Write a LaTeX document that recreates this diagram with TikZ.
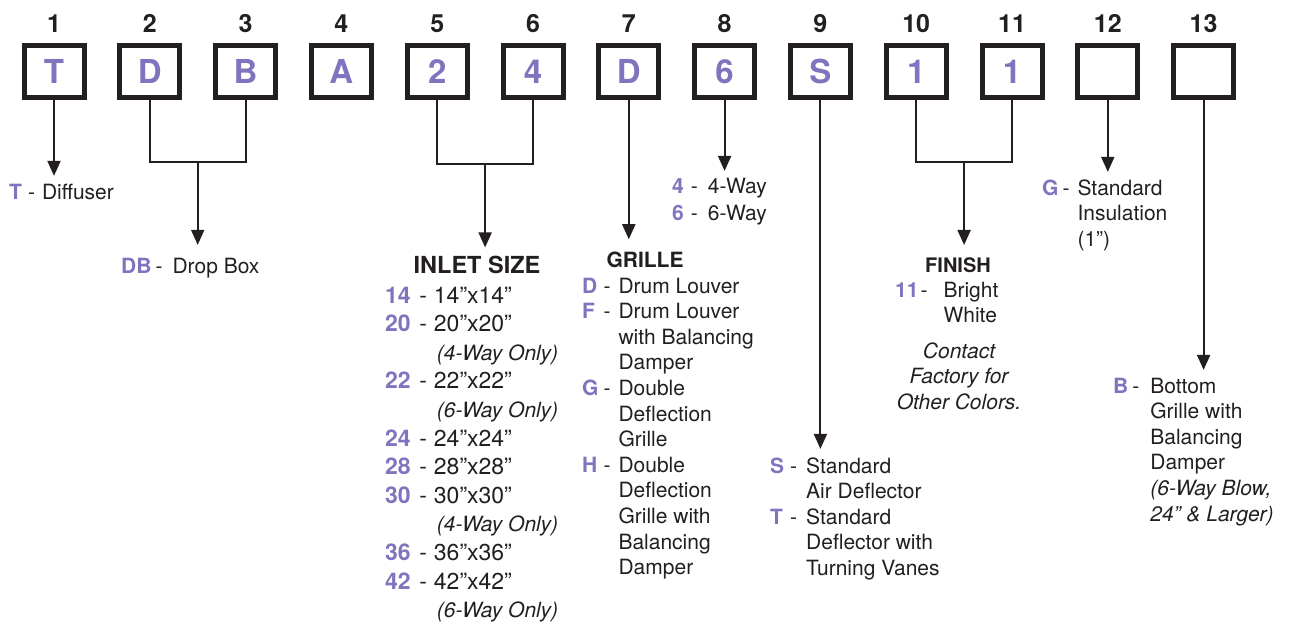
\documentclass[tikz,border=0pt]{standalone}
\usepackage{fontspec}
\setmainfont{TeX Gyre Heros}
\usetikzlibrary{arrows.meta,calc,positioning}
\definecolor{ink}{RGB}{35,31,32}
\definecolor{codepurple}{RGB}{128,116,190}
\newcommand{\code}[1]{\textcolor{codepurple}{\bfseries #1}}
\newcommand{\waynote}[1]{\hspace{3pt}{\fontsize{21}{28.6}\selectfont\itshape #1}}

\begin{document}
\begin{tikzpicture}
	[x=1pt, y=-1pt,
	digitbox/.style	= {rectangle, draw=ink, line width=5pt, minimum width=60pt, minimum height=52pt, inner sep=0pt, text=codepurple, font=\fontsize{33}{33}\selectfont\bfseries},
	numlabel/.style	= {inner sep=0pt, text=ink, font=\fontsize{25}{25}\selectfont\bfseries},
	link/.style	= {draw=ink, line width=2pt},
	arr/.style	= {link, -{Triangle[width=13pt,length=15pt]}, shorten >=5pt},
	item/.style	= {inner sep=0pt, anchor=base west, text=ink, font=\fontsize{21}{25.6}\selectfont},
	heading/.style	= {inner sep=0pt, anchor=base, text=ink, font=\fontsize{21}{25}\selectfont\bfseries}]
	
	\useasboundingbox (0,0) rectangle (1310,626);
	
	% code boxes and their positions
	\foreach \i/\ch in {1/T,2/D,3/B,4/A,5/2,6/4,7/D,8/6,9/S,10/1,11/1,12/{},13/{}}{
		\node[digitbox] (b\i) at ({54+95.8*(\i-1)}, 71.5) {\ch};
		\node[numlabel, above=10pt of b\i] (n\i) {\i};
	}
	
	% option texts
	\node[item] (tdif) at (9,199) {\begin{tabular}[t]{@{}l@{\hspace{6pt}}l@{\hspace{7pt}}l@{}}
		\code{T} & - & Diffuser\end{tabular}};
	\node[item] (db) at (121,273) {\begin{tabular}[t]{@{}l@{\hspace{4pt}}l@{\hspace{10pt}}l@{}}
		\code{DB} & - & Drop Box\end{tabular}};
	
	\node[heading, font=\fontsize{23.5}{25}\selectfont\bfseries] (inlet) at (477,273) {INLET SIZE};
	\node[item, font=\fontsize{23}{28.6}\selectfont] (sizes) at (385,303) {\begin{tabular}[t]{@{}l@{\hspace{8.5pt}}l@{\hspace{7pt}}l@{}}
		\code{14} & - & 14”x14”\\
		\code{20} & - & 20”x20”\\
		& & \waynote{(4-Way Only)}\\
		\code{22} & - & 22”x22”\\
		& & \waynote{(6-Way Only)}\\
		\code{24} & - & 24”x24”\\
		\code{28} & - & 28”x28”\\
		\code{30} & - & 30”x30”\\
		& & \waynote{(4-Way Only)}\\
		\code{36} & - & 36”x36”\\
		\code{42} & - & 42”x42”\\
		& & \waynote{(6-Way Only)}\end{tabular}};
	
	\node[heading] (grille) at (645,267) {GRILLE};
	\node[item] (grilles) at (582,293) {\begin{tabular}[t]{@{}l@{\hspace{5pt}}l@{\hspace{8pt}}l@{}}
		\code{D} & - & Drum Louver\\
		\code{F} & - & Drum Louver\\
		& & with Balancing\\
		& & Damper\\
		\code{G} & - & Double\\
		& & Deflection\\
		& & Grille\\
		\code{H} & - & Double\\
		& & Deflection\\
		& & Grille with\\
		& & Balancing\\
		& & Damper\end{tabular}};
	
	\node[item, font=\fontsize{21}{27}\selectfont] (ways) at (672,193) {\begin{tabular}[t]{@{}l@{\hspace{7pt}}l@{\hspace{10pt}}l@{}}
		\code{4} & - & 4-Way\\
		\code{6} & - & 6-Way\end{tabular}};
	
	\node[item] (defl) at (770,473) {\begin{tabular}[t]{@{}l@{\hspace{6pt}}l@{\hspace{9pt}}l@{}}
		\code{S} & - & Standard\\
		& & Air Deflector\\
		\code{T} & - & Standard\\
		& & Deflector with\\
		& & Turning Vanes\end{tabular}};
	
	\node[heading, font=\fontsize{20}{25}\selectfont\bfseries] (finish) at (958,272) {FINISH};
	\node[item] (white) at (895,297) {\begin{tabular}[t]{@{}l@{\hspace{2pt}}l@{\hspace{16pt}}l@{}}
		\code{11} & - & Bright\\
		& & White\end{tabular}};
	\node[item, anchor=base] (contact) at (959,358) {\begin{tabular}[t]{@{}c@{}}
		\itshape Contact\\ \itshape Factory for\\ \itshape Other Colors.\end{tabular}};
	
	\node[item] (insul) at (1042,195) {\begin{tabular}[t]{@{}l@{\hspace{4pt}}l@{\hspace{8pt}}l@{}}
		\code{G} & - & Standard\\
		& & Insulation\\
		& & (1”)\end{tabular}};
	
	\node[item] (bottom) at (1113,393) {\begin{tabular}[t]{@{}l@{\hspace{4pt}}l@{\hspace{11pt}}l@{}}
		\code{B} & - & Bottom\\
		& & Grille with\\
		& & Balancing\\
		& & Damper\\
		& & \textit{(6-Way Blow,}\\
		& & \textit{24” \& Larger)}\end{tabular}};
	
	% brackets joining two boxes
	\coordinate (j23) at ($(b2.south)!.5!(b3.south)+(0,62)$);
	\coordinate (j56) at ($(b5.south)!.5!(b6.south)+(0,64)$);
	\coordinate (j1011) at ($(b10.south)!.5!(b11.south)+(0,62)$);
	\draw[link] (b2.south) |- (j23) -| (b3.south);
	\draw[link] (b5.south) |- (j56) -| (b6.south);
	\draw[link] (b10.south) |- (j1011) -| (b11.south);
	
	% arrows
	\draw[arr] (b1.south) -- (b1.south |- tdif.north);
	\draw[arr, shorten >=10pt] (j23) -- (j23 |- db.north);
	\draw[arr, shorten >=8pt] (j56) -- (j56 |- inlet.north);
	\draw[arr, shorten >=12pt] (b7.south) -- (b7.south |- grille.north);
	\draw[arr, shorten >=3pt] (b8.south) -- (b8.south |- ways.north);
	\draw[arr, shorten >=6pt] (b9.south) -- (b9.south |- defl.north);
	\draw[arr, shorten >=12pt] (j1011) -- (j1011 |- finish.north);
	\draw[arr] (b12.south) -- (b12.south |- insul.north);
	\draw[arr] (b13.south) -- (b13.south |- bottom.north);
	
\end{tikzpicture}
\end{document}
